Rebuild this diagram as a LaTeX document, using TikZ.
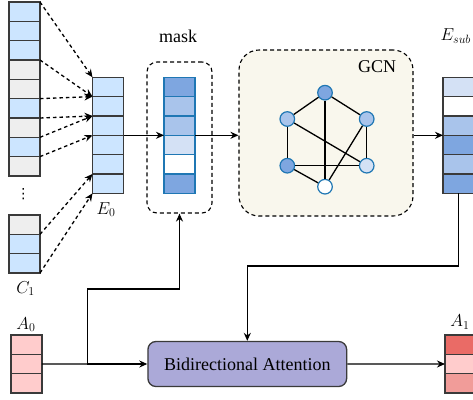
\documentclass[tikz,border=0pt]{standalone}
\usepackage{fontspec}
\setmainfont{Liberation Serif}
\newfontfamily\dejavu{DejaVu Sans}
\usetikzlibrary{arrows.meta,calc}
\definecolor{cblue}{HTML}{CCE5FF}
\definecolor{cgray}{HTML}{EEEEEE}
\definecolor{cbord}{HTML}{3A3A3A}
\definecolor{mdark}{HTML}{7EA6E0}
\definecolor{mmid}{HTML}{A9C4EB}
\definecolor{mlight}{HTML}{D4E1F5}
\definecolor{mbord}{HTML}{1F77B4}
\definecolor{pinkc}{HTML}{FFCCCC}
\definecolor{redc}{HTML}{EA6B66}
\definecolor{salmc}{HTML}{F19C99}
\definecolor{bifill}{HTML}{ABA9D8}
\definecolor{gcnfill}{HTML}{F9F7ED}
\begin{document}
\begin{tikzpicture}[x=1pt,y=-1pt,
 cell/.style={draw=cbord, line width=1.4pt, minimum width=31pt, minimum height=19.33pt, inner sep=0pt, outer sep=0pt},
 mcell/.style={cell, draw=mbord},
 gnode/.style={circle, draw=mbord, line width=1.2pt, minimum size=14.6pt, inner sep=0pt},
 conn/.style={line width=1.3pt, -{Stealth[length=8pt,width=7pt]}},
 dconn/.style={conn, dash pattern=on 3.5pt off 3pt},
 lab/.style={font=\fontsize{18}{21}\selectfont, inner sep=0pt, anchor=base},
 dbox/.style={draw=black, line width=1.1pt, dash pattern=on 4pt off 3pt, inner sep=0pt}
]
\useasboundingbox (0,0) rectangle (473,399);

% boxes
\node[dbox, rounded corners=10pt, minimum width=65pt, minimum height=151pt] (maskbox) at (179.5,137.5) {};
\node[dbox, fill=gcnfill, rounded corners=20pt, minimum width=174pt, minimum height=166pt] (gcn) at (326,133) {};

% C column
\foreach \c [count=\i] in {cblue,cblue,cblue,cgray,cgray,cblue,cgray,cblue,cgray}
  \node[cell, fill=\c] (c\i) at (24.5,{2+19.33*(\i-0.5)}) {};
% C1 column
\foreach \c [count=\i] in {cgray,cblue,cblue}
  \node[cell, fill=\c] (d\i) at (24.5,{215+19.33*(\i-0.5)}) {};
% E0
\foreach \c [count=\i] in {cblue,cblue,cblue,cblue,cblue,cblue}
  \node[cell, fill=\c] (e\i) at (108,{77.3+19.33*(\i-0.5)}) {};
% mask column
\foreach \c [count=\i] in {mdark,mmid,mmid,mlight,white,mdark}
  \node[mcell, fill=\c] (m\i) at (179.5,{77.3+19.33*(\i-0.5)}) {};
% Esub
\foreach \c [count=\i] in {mlight,white,mmid,mdark,mmid,mdark}
  \node[cell, fill=\c] (s\i) at (458.5,{77.3+19.33*(\i-0.5)}) {};
% A0
\foreach \c [count=\i] in {pinkc,pinkc,pinkc}
  \node[cell, fill=\c] (a\i) at (26.3,{335+19.33*(\i-0.5)}) {};
% A1
\foreach \c [count=\i] in {redc,pinkc,salmc}
  \node[cell, fill=\c] (b\i) at (460.5,{335+19.33*(\i-0.5)}) {};

% labels
\node[lab] (lmask) at (178,42) {mask};
\node[lab] (lgcn) at (377,72.3) {GCN};
\node[lab] (le0) at (106,214) {$E_0$};
\node[lab] (lc1) at (25.5,293) {$C_1$};
\node[lab] (la0) at (26,329) {$A_0$};
\node[lab] (la1) at (460,326.7) {$A_1$};
\node[lab, anchor=base west] (les) at (440.5,40.7) {$E_{sub}$};
\node[inner sep=0pt, font=\dejavu\fontsize{14}{16}\selectfont] (dots) at (23.3,194.5) {⋮};

% graph
\node[gnode, fill=mdark] (g1) at (325,92.7) {};
\node[gnode, fill=mmid] (g2) at (287.3,119) {};
\node[gnode, fill=mmid] (g3) at (366.7,119) {};
\node[gnode, fill=mdark] (g4) at (287.3,165.7) {};
\node[gnode, fill=mlight] (g5) at (366.7,165.7) {};
\node[gnode, fill=white] (g6) at (325,186.7) {};
\foreach \u/\v in {g1/g2,g1/g3,g1/g6,g2/g4,g2/g5,g3/g5,g3/g6,g4/g5,g4/g6}
  \draw[line width=1.3pt] (\u) -- (\v);

% bidirectional attention
\node[draw=cbord, line width=1.3pt, fill=bifill, rounded corners=8pt, minimum width=198.7pt, minimum height=45pt, font=\fontsize{18}{21}\selectfont] (bi) at (247.3,364) {Bidirectional Attention};

% dashed arrows
\draw[dconn] (c1.north east) -- (e1.north west);
\draw[dconn] (c3.south east) -- (e1.south west);
\draw[dconn] (c5.south east) -- (e1.south west);
\draw[dconn] (c6.south east) -- (e2.south west);
\draw[dconn] (c7.south east) -- (e2.south west);
\draw[dconn] (c8.south east) -- (e3.south west);
\draw[dconn] (d1.south east) -- (e5.south west);
\draw[dconn] (d3.south east) -- (e6.south west);

% solid arrows
\draw[conn] (e3.south east) -- (m3.south west);
\draw[conn] (m3.south east) -- (m3.south east -| gcn.west);
\draw[conn] (gcn.east |- s3.south west) -- (s3.south west);
\coordinate (k1) at (247.3,266);
\draw[conn] (s6.south) |- (k1) -- (bi.north);
\coordinate (br) at (87.3,364);
\coordinate (k2) at (87.3,289);
\draw[line width=1.3pt] (a2.east) -- (br);
\draw[conn] (br) -- (bi.west);
\draw[conn] (br) -- (k2) -| (maskbox.south);
\draw[conn] (bi.east) -- (b2.west);
\end{tikzpicture}
\end{document}
